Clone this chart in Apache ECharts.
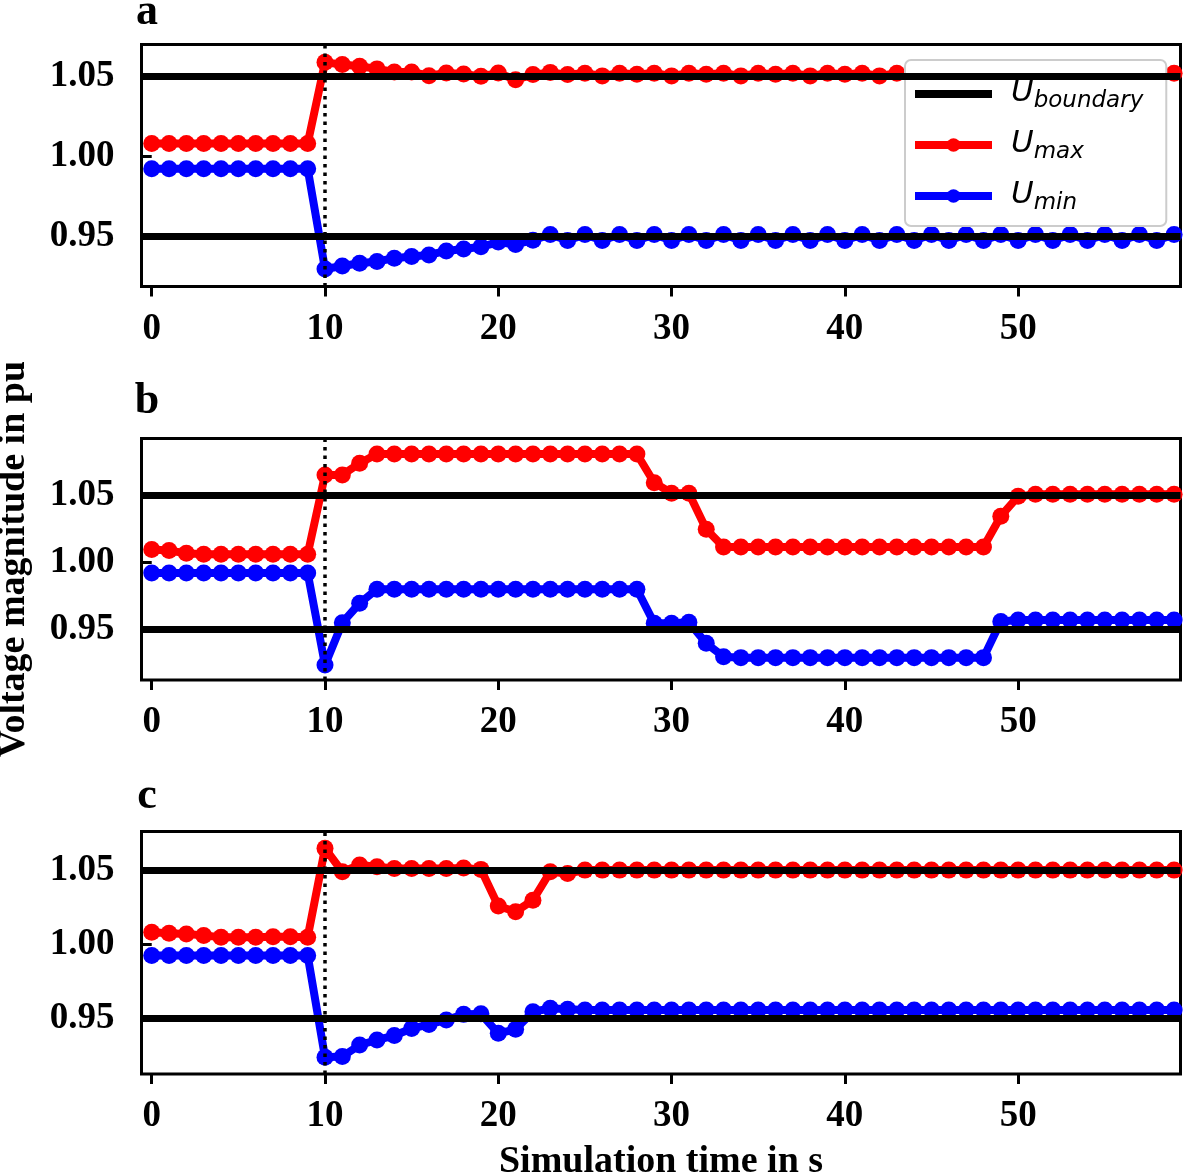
<!DOCTYPE html>
<html>
<head>
<meta charset="utf-8">
<script src="https://cdn.jsdelivr.net/npm/echarts@6/dist/echarts.min.js"></script>
<style>
html,body{margin:0;padding:0;background:#fff;}
#chart{width:1183px;height:1174px;}
</style>
</head>
<body>
<div id="chart"></div>
<script>
// ---- data ----
const time = Array.from({length: 60}, (_, i) => i);
const xTicks = [0, 10, 20, 30, 40, 50];
const yTicks = [0.95, 1.00, 1.05];
const boundaries = [1.05, 0.95];
const eventTime = 10;
const panelLabels = ['a', 'b', 'c'];

const aMax = [1.008,1.008,1.008,1.008,1.008,1.008,1.008,1.008,1.008,1.008,
  1.059,1.0576,1.0565,1.0549,1.053,1.053,1.0506,1.0523,1.0517,1.0502,
  1.0523,1.0481,1.0513,1.0527,1.0513,1.0522,1.0505,1.0522,1.0515,1.0522,
  1.0505,1.0522,1.0515,1.0522,1.0505,1.0522,1.0515,1.0522,1.0505,1.0522,
  1.0515,1.0522,1.0505,1.0522,1.0515,1.0522,1.0505,1.0522,1.0515,1.0522,
  1.0505,1.0522,1.0515,1.0522,1.0505,1.0522,1.0515,1.0522,1.0505,1.0521];
const aMin = [0.9922,0.9922,0.9922,0.9922,0.9922,0.9922,0.9922,0.9922,0.9922,0.9922,
  0.9293,0.9312,0.9329,0.9340,0.9361,0.9371,0.9381,0.9406,0.9418,0.9432,
  0.9462,0.9447,0.9474,0.9510,0.9472,0.9510,0.9472,0.9510,0.9472,0.9510,
  0.9472,0.9510,0.9472,0.9510,0.9472,0.9510,0.9472,0.9510,0.9472,0.9510,
  0.9472,0.9510,0.9472,0.9510,0.9472,0.9510,0.9472,0.9510,0.9472,0.9510,
  0.9472,0.9510,0.9472,0.9510,0.9472,0.9510,0.9472,0.9510,0.9472,0.9510];

const bMax = [1.0093,1.0085,1.0065,1.0058,1.0058,1.0058,1.0058,1.0058,1.0058,1.0058,
  1.065,1.065,1.0737,1.0806,1.0806,1.0806,1.0806,1.0806,1.0806,1.0806,
  1.0806,1.0806,1.0806,1.0806,1.0806,1.0806,1.0806,1.0806,1.0806,1.0592,
  1.0513,1.0513,1.0244,1.0112,1.0112,1.0112,1.0112,1.0112,1.0112,1.0112,
  1.0112,1.0112,1.0112,1.0112,1.0112,1.0112,1.0112,1.0112,1.0112,1.0342,
  1.049,1.0505,1.0505,1.0505,1.0505,1.0505,1.0505,1.0505,1.0505,1.0505];
const bMin = [0.9918,0.9918,0.9918,0.9918,0.9918,0.9918,0.9918,0.9918,0.9918,0.9918,
  0.9231,0.9547,0.9692,0.9797,0.9797,0.9797,0.9797,0.9797,0.9797,0.9797,
  0.9797,0.9797,0.9797,0.9797,0.9797,0.9797,0.9797,0.9797,0.9797,0.9542,
  0.9542,0.955,0.9393,0.9293,0.9286,0.9286,0.9286,0.9286,0.9286,0.9286,
  0.9286,0.9286,0.9286,0.9286,0.9286,0.9286,0.9286,0.9286,0.9286,0.9555,
  0.9567,0.9567,0.9567,0.9567,0.9567,0.9567,0.9567,0.9567,0.9567,0.9567];

const cMax = [1.0083,1.0077,1.0072,1.0061,1.005,1.005,1.005,1.0052,1.0052,1.005,
  1.065,1.0492,1.0537,1.0526,1.0514,1.0514,1.0514,1.0514,1.0518,1.0508,
  1.026,1.0222,1.030,1.0492,1.048,1.0503,1.0503,1.0503,1.0503,1.0503,
  1.0503,1.0503,1.0503,1.0503,1.0503,1.0503,1.0503,1.0503,1.0503,1.0503,
  1.0503,1.0503,1.0503,1.0503,1.0503,1.0503,1.0503,1.0503,1.0503,1.0503,
  1.0503,1.0503,1.0503,1.0503,1.0503,1.0503,1.0503,1.0503,1.0503,1.0503];
const cMin = [0.9926,0.9926,0.9926,0.9926,0.9926,0.9926,0.9926,0.9926,0.9926,0.9926,
  0.9238,0.9243,0.9321,0.9355,0.9385,0.9432,0.946,0.949,0.9528,0.9532,
  0.94,0.9427,0.9546,0.9569,0.9562,0.9557,0.9557,0.9557,0.9557,0.9557,
  0.9557,0.9557,0.9557,0.9557,0.9557,0.9557,0.9557,0.9557,0.9557,0.9557,
  0.9557,0.9557,0.9557,0.9557,0.9557,0.9557,0.9557,0.9557,0.9557,0.9557,
  0.9557,0.9557,0.9557,0.9557,0.9557,0.9557,0.9557,0.9557,0.9557,0.9557];

const panelMax = [aMax, bMax, cMax];
const panelMin = [aMin, bMin, cMin];
const yRanges = [[0.9183, 1.0702], [0.9119, 1.0922], [0.9125, 1.0764]];
const xRange = [-0.59, 59.37];

// ---- layout ----
const grids = [
  {left: 141.5, top: 44.5, width: 1039, height: 242},
  {left: 141.5, top: 438.5, width: 1039, height: 241.5},
  {left: 141.5, top: 831.5, width: 1039, height: 242.5}
];
const labelY = [13, 402, 797];
const FONT = 'Liberation Serif';

const chart = echarts.init(document.getElementById('chart'), null, {renderer: 'canvas'});

const tickStyle = {show: true, length: 10, inside: false, lineStyle: {color: '#000', width: 3}};
const labelStyle = {color: '#000', fontFamily: FONT, fontWeight: 'bold', fontSize: 37};
const titleStyle = {color: '#000', fontFamily: FONT, fontWeight: 'bold', fontSize: 38};

const xAxes = grids.map((g, i) => ({
  type: 'value', gridIndex: i, min: xRange[0], max: xRange[1],
  axisLine: {show: false},
  splitLine: {show: false},
  axisTick: Object.assign({customValues: xTicks}, tickStyle),
  axisLabel: Object.assign({customValues: xTicks, margin: 24}, labelStyle),
  name: i === 2 ? 'Simulation time in s' : '',
  nameLocation: 'middle', nameGap: 69,
  nameTextStyle: titleStyle
}));
const yAxes = grids.map((g, i) => ({
  type: 'value', gridIndex: i, min: yRanges[i][0], max: yRanges[i][1],
  axisLine: {show: false},
  splitLine: {show: false},
  axisTick: Object.assign({customValues: yTicks}, tickStyle),
  axisLabel: Object.assign({customValues: yTicks, margin: 27, formatter: v => v.toFixed(2)}, labelStyle),
  name: i === 1 ? 'Voltage magnitude in pu' : '',
  nameLocation: 'middle', nameGap: 108, nameRotate: 90,
  nameTextStyle: titleStyle
}));

const series = [];
grids.forEach((g, i) => {
  series.push({
    name: 'boundary', type: 'line', xAxisIndex: i, yAxisIndex: i,
    data: [], symbol: 'none',
    itemStyle: {color: 'rgba(0,0,0,0)'},
    lineStyle: {color: '#000', width: 7}, z: 1,
    markLine: {
      silent: true, symbol: ['none', 'none'], label: {show: false},
      lineStyle: {color: '#000', width: 7, type: 'solid'},
      emphasis: {disabled: true},
      data: boundaries.map(b => ({yAxis: b}))
    }
  });
  series.push({
    name: 'max', type: 'line', xAxisIndex: i, yAxisIndex: i,
    data: time.map((t, k) => [t, panelMax[i][k]]),
    symbol: 'circle', symbolSize: 17, showAllSymbol: true,
    itemStyle: {color: '#ff0000'}, lineStyle: {color: '#ff0000', width: 8}, z: 3
  });
  series.push({
    name: 'min', type: 'line', xAxisIndex: i, yAxisIndex: i,
    data: time.map((t, k) => [t, panelMin[i][k]]),
    symbol: 'circle', symbolSize: 17, showAllSymbol: true,
    itemStyle: {color: '#0000ff'}, lineStyle: {color: '#0000ff', width: 8}, z: 3
  });
  series.push({
    name: 'event', type: 'line', xAxisIndex: i, yAxisIndex: i,
    data: [], symbol: 'none', z: 5,
    markLine: {
      silent: true, symbol: ['none', 'none'], label: {show: false},
      lineStyle: {color: '#000', width: 3.5, type: [3.5, 5]},
      emphasis: {disabled: true},
      data: [{xAxis: eventTime}]
    }
  });
});

const subs = {boundary: 'boundary', max: 'max', min: 'min'};

const option = {
  backgroundColor: '#fff',
  animation: false,
  grid: grids.map(g => Object.assign({show: true, borderColor: '#000', borderWidth: 3, backgroundColor: 'transparent', containLabel: false, outerBoundsMode: 'none'}, g)),
  xAxis: xAxes,
  yAxis: yAxes,
  legend: {
    data: [{name: 'boundary'}, {name: 'max'}, {name: 'min'}],
    orient: 'vertical',
    left: 905, top: 60,
    padding: [17, 23, 11, 6],
    itemGap: 15,
    itemWidth: 77, itemHeight: 17,
    lineStyle: {width: 8},
    backgroundColor: '#ffffff',
    borderColor: '#cccccc', borderWidth: 2, borderRadius: 6,
    selectedMode: false,
    formatter: name => '{u|U}{s|' + subs[name] + '}',
    textStyle: {
      color: '#000',
      rich: {
        u: {fontFamily: 'DejaVu Sans', fontStyle: 'italic', fontSize: 31, color: '#000', verticalAlign: 'bottom', lineHeight: 38, padding: [0, 0, 5, 14]},
        s: {fontFamily: 'DejaVu Sans', fontStyle: 'italic', fontSize: 23, color: '#000', verticalAlign: 'bottom', lineHeight: 38}
      }
    }
  },
  graphic: panelLabels.map((t, i) => ({
    type: 'text', x: 147, y: labelY[i],
    style: {text: t, fontFamily: FONT, fontWeight: 'bold', fontSize: 44, fill: '#000', align: 'center', verticalAlign: 'middle'}
  })),
  series: series
};
chart.setOption(option);
</script>
</body>
</html>
